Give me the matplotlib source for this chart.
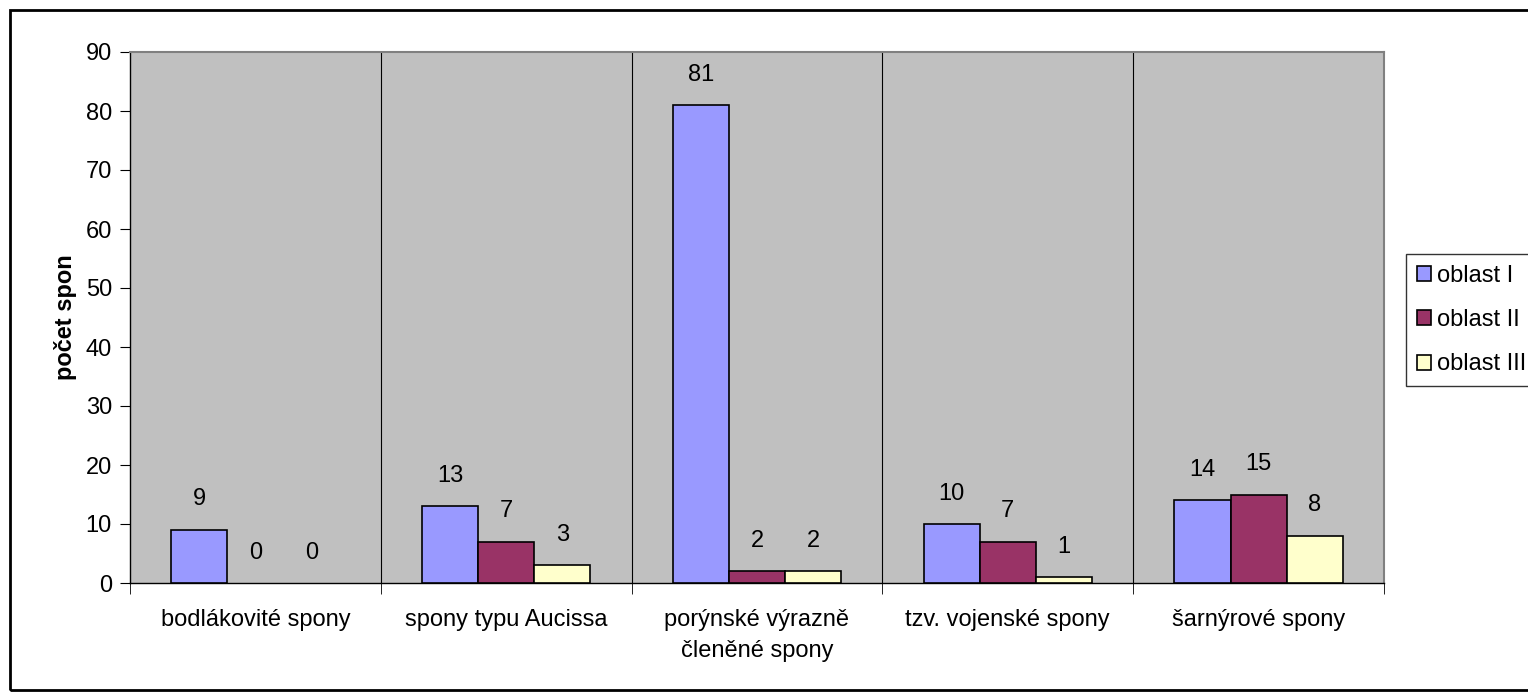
import matplotlib
matplotlib.use('Agg')
import matplotlib.pyplot as plt
from matplotlib.patches import Rectangle, Patch
import numpy as np

kategorie = ['bodlákovité spony', 'spony typu Aucissa', 'porýnské výrazně\nčleněné spony',
             'tzv. vojenské spony', 'šarnýrové spony']
oblast_1 = [9, 13, 81, 10, 14]
oblast_2 = [0, 7, 2, 7, 15]
oblast_3 = [0, 3, 2, 1, 8]
serie = ['oblast I', 'oblast II', 'oblast III']
barvy = ['#9999FF', '#993366', '#FFFFCC']

plt.rcParams['font.family'] = ['Liberation Sans', 'DejaVu Sans']
fs = 17

fig = plt.figure(figsize=(15.28, 6.93), dpi=100)
ax = fig.add_axes([130 / 1528, 1 - 583 / 693, 1254 / 1528, 531 / 693])
ax.set_facecolor('#C0C0C0')

x = np.arange(len(kategorie))
sirka = 0.224
for i, (hodnoty, barva) in enumerate(zip([oblast_1, oblast_2, oblast_3], barvy)):
    pozice = x + (i - 1) * sirka
    sloupce = ax.bar(pozice, hodnoty, sirka, color=barva, edgecolor='black', linewidth=1.2,
                     zorder=3)
    for s, h in zip(sloupce, hodnoty):
        if h == 0:
            s.set_linewidth(0)
    for px, h in zip(pozice, hodnoty):
        ax.annotate(str(h), (px, h), xytext=(0, 14), textcoords='offset points',
                    ha='center', va='bottom', fontsize=fs)

ax.set_xlim(-0.5, len(kategorie) - 0.5)
ax.set_ylim(0, 90)
ax.set_yticks(range(0, 91, 10))
ax.tick_params(axis='y', labelsize=fs, length=7, direction='out', pad=6)

# hranice kategorii
for b in np.arange(0.5, len(kategorie) - 0.5):
    ax.axvline(b, color='black', linewidth=0.8, zorder=2)
ax.set_xticks(x)
ax.set_xticklabels(kategorie, fontsize=fs, linespacing=1.5)
ax.tick_params(axis='x', length=0, pad=19)
ax.set_xticks(np.arange(-0.5, len(kategorie)), minor=True)
ax.tick_params(axis='x', which='minor', length=8, direction='out')

ax.set_ylabel('počet spon', fontsize=fs, fontweight='bold', labelpad=6)

for s in ['top', 'right']:
    ax.spines[s].set_color('#808080')
    ax.spines[s].set_linewidth(1.5)
for s in ['left', 'bottom']:
    ax.spines[s].set_color('black')
    ax.spines[s].set_linewidth(1)

handles = [Patch(facecolor=b, edgecolor='black', linewidth=1.2) for b in barvy]
leg = fig.legend(handles, serie, loc='upper left', bbox_to_anchor=(1406 / 1528, 1 - 254 / 693),
                 fontsize=fs, frameon=True, fancybox=False, edgecolor='black',
                 handlelength=0.6, handleheight=0.6, handletextpad=0.25,
                 labelspacing=0.95, borderpad=0.45, borderaxespad=0)
leg.get_frame().set_linewidth(1)

# ramecek grafu
fig.patches.append(Rectangle((10 / 1528, 3 / 693), 1.2, 680 / 693, transform=fig.transFigure,
                             fill=False, edgecolor='black', linewidth=2))

fig.savefig('out.png', dpi=100)
